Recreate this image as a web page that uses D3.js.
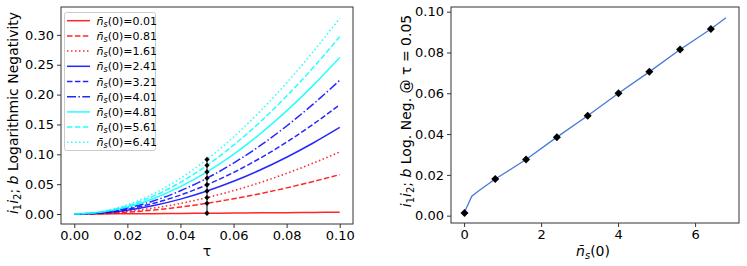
<!DOCTYPE html>
<html><head><meta charset="utf-8">
<script src="https://cdn.jsdelivr.net/npm/d3@7"></script>
<style>body{margin:0;background:#fff}svg{font-family:"DejaVu Sans",sans-serif}</style>
</head><body><svg id="c" width="747" height="266"></svg>
<script>
// ---- data ----
const tau = [0,0.01,0.02,0.03,0.04,0.05,0.06,0.07,0.08,0.09,0.10];
const nLabels = ["0.01","0.81","1.61","2.41","3.21","4.01","4.81","5.61","6.41"];
const s001 = [0,0.0002,0.0004,0.0006,0.0009,0.0013,0.0016,0.0020,0.0023,0.0027,0.0030];
const s081 = [0,0.00077,0.00302,0.0067,0.01171,0.0180,0.02549,0.03411,0.04378,0.05443,0.066];
const s161 = [0,0.00115,0.00454,0.01012,0.01779,0.0275,0.03917,0.05272,0.0681,0.08521,0.104];
const s241 = [0,0.00161,0.00638,0.01418,0.02493,0.0385,0.05479,0.07369,0.0951,0.11891,0.145];
const s321 = [0,0.00206,0.00815,0.01811,0.03178,0.0490,0.06962,0.09349,0.12045,0.15034,0.183];
const s401 = [0,0.00253,0.00998,0.02218,0.03891,0.0600,0.08525,0.11446,0.14746,0.18403,0.224];
const s481 = [0,0.00298,0.01176,0.0261,0.04576,0.0705,0.10008,0.13426,0.1728,0.21546,0.262];
const s561 = [0,0.00349,0.01374,0.03038,0.05309,0.0815,0.11527,0.15406,0.19751,0.24527,0.297];
const s641 = [0,0.00397,0.01555,0.03431,0.05977,0.0915,0.12902,0.17189,0.21965,0.27184,0.328];
const nPoints = [0.01,0.81,1.61,2.41,3.21,4.01,4.81,5.61,6.41];
const lnAt005 = [0.0013,0.018,0.0275,0.0385,0.049,0.060,0.0705,0.0815,0.0915];
const nLine = [0,0.2,0.4,0.81,1.61,2.41,3.21,4.01,4.81,5.61,6.41,6.8];
const lnLine = [0.0013,0.0095,0.0125,0.018,0.0275,0.0385,0.049,0.060,0.0705,0.0815,0.0915,0.097];
const leftXTicks = [0,0.02,0.04,0.06,0.08,0.10];
const leftYTicks = [0,0.05,0.10,0.15,0.20,0.25,0.30];
const rightXTicks = [0,2,4,6];
const rightYTicks = [0,0.02,0.04,0.06,0.08,0.10];

const seriesVals = [s001,s081,s161,s241,s321,s401,s481,s561,s641];
const colors = ["#ff0000","#ff0000","#ff0000","#0000ff","#0000ff","#0000ff","#00ffff","#00ffff","#00ffff"];
const dashes = [null,"5.5,2.4","1.5,2.5",null,"5.5,2.4","9,2.4,1.5,2.4",null,"5.5,2.4","1.5,2.5"];

const svg = d3.select("#c");
const spine = "#333";
const fs = 13;
const lfs = 14;

// ---- left panel ----
const xL = d3.scaleLinear().domain([-0.005,0.105]).range([61,353]);
const yL = d3.scaleLinear().domain([-0.0167,0.3467]).range([224,7]);
const gL = svg.append("g");
gL.append("g").attr("transform","translate(0,224)")
  .call(d3.axisBottom(xL).tickValues(leftXTicks).tickFormat(d3.format(".2f")).tickSizeOuter(0).tickSize(4).tickPadding(3))
  .call(g=>{g.select(".domain").remove();g.selectAll("text").attr("font-size",fs).attr("fill","#000").attr("font-family","DejaVu Sans");g.selectAll("line").attr("stroke",spine);});
gL.append("g").attr("transform","translate(61,0)")
  .call(d3.axisLeft(yL).tickValues(leftYTicks).tickFormat(d3.format(".2f")).tickSizeOuter(0).tickSize(4).tickPadding(3))
  .call(g=>{g.select(".domain").remove();g.selectAll("text").attr("font-size",fs).attr("fill","#000").attr("font-family","DejaVu Sans");g.selectAll("line").attr("stroke",spine);});

const lineL = d3.line().x(d=>xL(d[0])).y(d=>yL(d[1])).curve(d3.curveMonotoneX);
seriesVals.forEach((vals,i)=>{
  gL.append("path").attr("d",lineL(tau.map((t,j)=>[t,vals[j]])))
    .attr("fill","none").attr("stroke",colors[i]).attr("stroke-width",1.5)
    .attr("stroke-dasharray",dashes[i]).attr("stroke-opacity",0.85);
});
// vertical marker line at tau=0.05
gL.append("line").attr("x1",xL(0.05)).attr("x2",xL(0.05))
  .attr("y1",yL(lnAt005[0])).attr("y2",yL(lnAt005[lnAt005.length-1]))
  .attr("stroke","#000").attr("stroke-width",1);
const diamond = d3.symbol().type(d3.symbolSquare);
lnAt005.forEach(v=>{
  gL.append("path").attr("d",diamond.size(14)())
    .attr("transform",`translate(${xL(0.05)},${yL(v)}) rotate(45)`).attr("fill","#000");
});
gL.append("rect").attr("x",61).attr("y",7).attr("width",292).attr("height",217)
  .attr("fill","none").attr("stroke",spine).attr("stroke-width",1);

// legend
const lg = gL.append("g");
lg.append("rect").attr("x",64.5).attr("y",12.5).attr("width",91).attr("height",138)
  .attr("fill","#fff").attr("fill-opacity",0.85).attr("stroke","#ccc").attr("rx",2);
nLabels.forEach((lab,i)=>{
  const y = 20.7 + i*15.2;
  lg.append("line").attr("x1",67).attr("x2",90).attr("y1",y).attr("y2",y)
    .attr("stroke",colors[i]).attr("stroke-width",1.5).attr("stroke-dasharray",dashes[i]).attr("stroke-opacity",0.85);
  const t = lg.append("text").attr("x",96.5).attr("y",y+4).attr("font-size",11).attr("fill","#000");
  t.append("tspan").attr("font-style","italic").text("n\u0304");
  t.append("tspan").attr("font-style","italic").attr("font-size",8).attr("dy",2).text("s");
  t.append("tspan").attr("dy",-2).text("(0)="+lab);
});

// left labels
svg.append("text").attr("x",207).attr("y",256).attr("text-anchor","middle").attr("font-size",lfs).text("\u03c4");
const ylabL = svg.append("text").attr("transform","translate(18,113) rotate(-90)").attr("text-anchor","middle").attr("font-size",lfs);
function ilabel(t){
  t.append("tspan").attr("font-style","italic").text("i");
  t.append("tspan").attr("font-size",10).attr("dy",3).text("1");
  t.append("tspan").attr("font-style","italic").attr("dy",-3).text("i");
  t.append("tspan").attr("font-size",10).attr("dy",3).text("2");
  t.append("tspan").attr("dy",-3).text("; ");
  t.append("tspan").attr("font-style","italic").text("b");
}
ilabel(ylabL); ylabL.append("tspan").text(" Logarithmic Negativity");

// ---- right panel ----
const xR = d3.scaleLinear().domain([-0.34,7.14]).range([451,739]);
const yR = d3.scaleLinear().domain([-0.0036,0.1023]).range([223,7]);
const gR = svg.append("g");
gR.append("g").attr("transform","translate(0,223)")
  .call(d3.axisBottom(xR).tickValues(rightXTicks).tickFormat(d3.format("d")).tickSizeOuter(0).tickSize(4).tickPadding(3))
  .call(g=>{g.select(".domain").remove();g.selectAll("text").attr("font-size",fs).attr("fill","#000").attr("font-family","DejaVu Sans");g.selectAll("line").attr("stroke",spine);});
gR.append("g").attr("transform","translate(451,0)")
  .call(d3.axisLeft(yR).tickValues(rightYTicks).tickFormat(d3.format(".2f")).tickSizeOuter(0).tickSize(4).tickPadding(3))
  .call(g=>{g.select(".domain").remove();g.selectAll("text").attr("font-size",fs).attr("fill","#000").attr("font-family","DejaVu Sans");g.selectAll("line").attr("stroke",spine);});
const lineR = d3.line().x(d=>xR(d[0])).y(d=>yR(d[1]));
gR.append("path").attr("d",lineR(nLine.map((n,i)=>[n,lnLine[i]])))
  .attr("fill","none").attr("stroke","#4a78d8").attr("stroke-width",1.3);
nPoints.forEach((n,i)=>{
  gR.append("path").attr("d",diamond.size(32)())
    .attr("transform",`translate(${xR(n)},${yR(lnAt005[i])}) rotate(45)`).attr("fill","#000");
});
gR.append("rect").attr("x",451).attr("y",7).attr("width",288).attr("height",216)
  .attr("fill","none").attr("stroke",spine).attr("stroke-width",1);
const xlabR = svg.append("text").attr("x",593).attr("y",256).attr("text-anchor","middle").attr("font-size",lfs);
xlabR.append("tspan").attr("font-style","italic").text("n\u0304");
xlabR.append("tspan").attr("font-style","italic").attr("font-size",10).attr("dy",3).text("s");
xlabR.append("tspan").attr("dy",-3).text("(0)");
const ylabR = svg.append("text").attr("transform","translate(411,111) rotate(-90)").attr("text-anchor","middle").attr("font-size",lfs);
ilabel(ylabR); ylabR.append("tspan").text(" Log. Neg. @ \u03c4 = 0.05");
</script></body></html>
